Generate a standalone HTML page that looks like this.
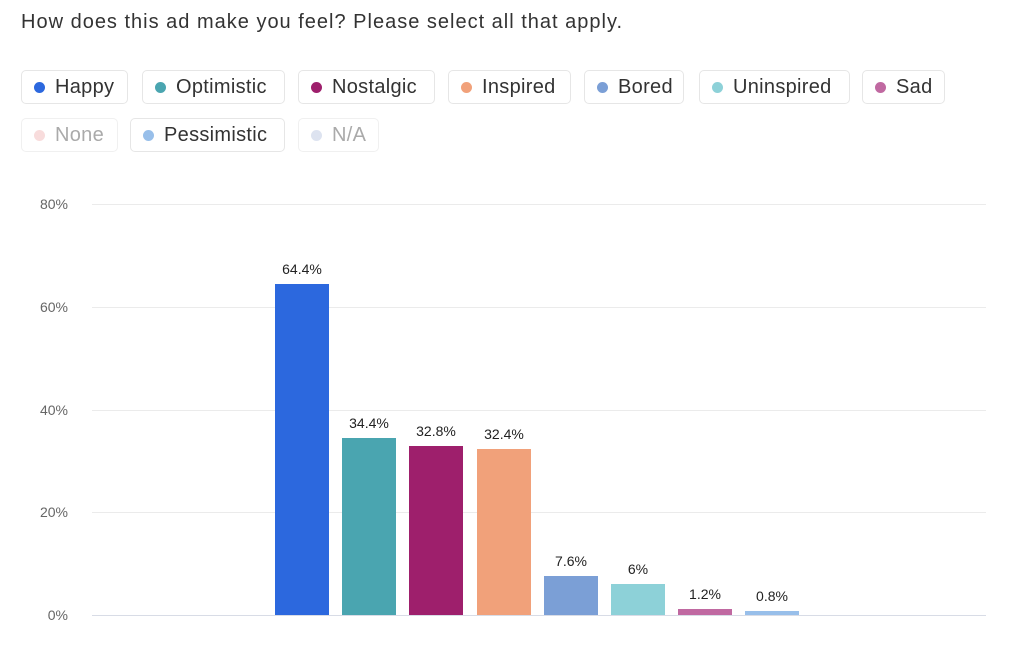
<!DOCTYPE html>
<html><head><style>
body{margin:0;width:1024px;height:652px;background:#fff;font-family:"Liberation Sans",sans-serif;position:relative;overflow:hidden}
.t{position:absolute;left:21px;top:11px;font-size:20px;letter-spacing:1px;color:#333}
.p{position:absolute;height:34px;border:1px solid #e6e6e6;border-radius:5px;box-sizing:border-box;font-size:20px;color:#333;line-height:32px;padding-left:33px;letter-spacing:0.3px}
.p i{position:absolute;left:12px;top:11px;width:11px;height:11px;border-radius:50%}
.g{position:absolute;left:92px;width:894px;height:1px;background:#ebebeb}
.y{position:absolute;left:20px;width:48px;text-align:right;font-size:14px;color:#666}
.b{position:absolute;width:54px}
.l{position:absolute;width:80px;text-align:center;font-size:14px;color:#222}
</style></head><body>
<div class="t">How does this ad make you feel? Please select all that apply.</div>
<div class="p" style="left:21px;top:70px;width:107px"><i style="background:#2c68de"></i>Happy</div>
<div class="p" style="left:142px;top:70px;width:143px"><i style="background:#4aa5b0"></i>Optimistic</div>
<div class="p" style="left:298px;top:70px;width:137px"><i style="background:#9e1f6c"></i>Nostalgic</div>
<div class="p" style="left:448px;top:70px;width:123px"><i style="background:#f1a17a"></i>Inspired</div>
<div class="p" style="left:584px;top:70px;width:100px"><i style="background:#7b9fd6"></i>Bored</div>
<div class="p" style="left:699px;top:70px;width:151px"><i style="background:#8dd1d8"></i>Uninspired</div>
<div class="p" style="left:862px;top:70px;width:83px"><i style="background:#c069a1"></i>Sad</div>
<div class="p" style="left:21px;top:118px;width:97px;color:#aaa;border-color:#f0f0f0"><i style="background:#f8dcdc"></i>None</div>
<div class="p" style="left:130px;top:118px;width:155px"><i style="background:#98bfea"></i>Pessimistic</div>
<div class="p" style="left:298px;top:118px;width:81px;color:#aaa;border-color:#f0f0f0"><i style="background:#dde3f0"></i>N/A</div>
<div class="g" style="top:204px"></div><div class="g" style="top:307px"></div><div class="g" style="top:410px"></div><div class="g" style="top:512px"></div><div class="g" style="top:615px;background:#d8dce6"></div>
<div class="y" style="top:196px">80%</div><div class="y" style="top:299px">60%</div><div class="y" style="top:402px">40%</div><div class="y" style="top:504px">20%</div><div class="y" style="top:607px">0%</div>
<div class="b" style="left:275px;top:284px;height:331px;background:#2c68de"></div><div class="l" style="left:262px;top:261px">64.4%</div>
<div class="b" style="left:342px;top:438px;height:177px;background:#4aa5b0"></div><div class="l" style="left:329px;top:415px">34.4%</div>
<div class="b" style="left:409px;top:446px;height:169px;background:#9e1f6c"></div><div class="l" style="left:396px;top:423px">32.8%</div>
<div class="b" style="left:477px;top:449px;height:166px;background:#f1a17a"></div><div class="l" style="left:464px;top:426px">32.4%</div>
<div class="b" style="left:544px;top:576px;height:39px;background:#7b9fd6"></div><div class="l" style="left:531px;top:553px">7.6%</div>
<div class="b" style="left:611px;top:584px;height:31px;background:#8dd1d8"></div><div class="l" style="left:598px;top:561px">6%</div>
<div class="b" style="left:678px;top:609px;height:6px;background:#c069a1"></div><div class="l" style="left:665px;top:586px">1.2%</div>
<div class="b" style="left:745px;top:611px;height:4px;background:#98bfea"></div><div class="l" style="left:732px;top:588px">0.8%</div>
</body></html>
